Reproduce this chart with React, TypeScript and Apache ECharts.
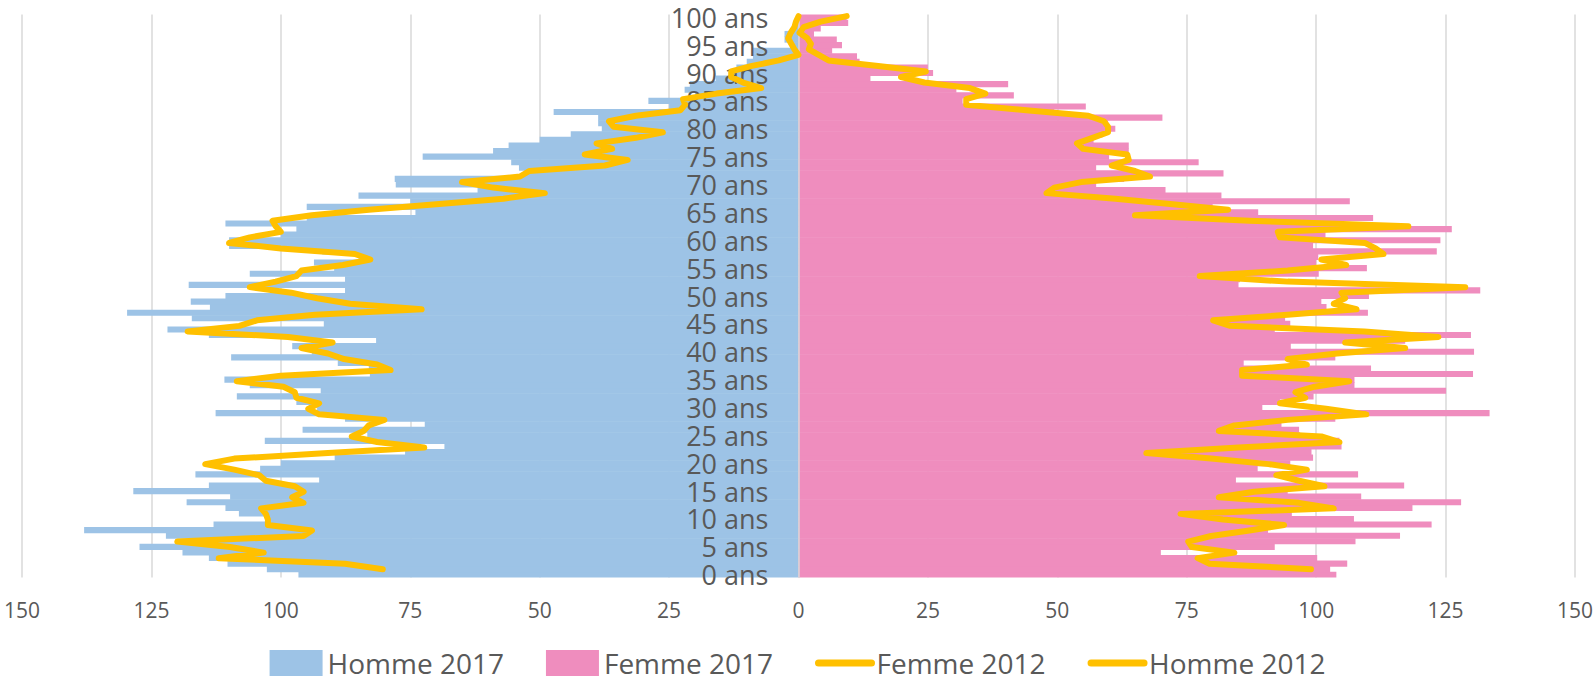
import React, { useEffect, useRef } from "react";
import * as echarts from "echarts";

// Ages 0..100 (category axis, bottom to top)
const ageLabels: string[] = Array.from({ length: 101 }, (_, i) => `${i} ans`);

const xTicks = [-150, -125, -100, -75, -50, -25, 0, 25, 50, 75, 100, 125, 150];

// Homme 2017 (negative = left side), index = age 0..100
const homme2017 = [
  -96.6, -102.7, -110.3, -113.9, -119, -127.3, -115, -122.2, -138, -113,
  -103, -108.1, -110.7, -118.2, -109.8, -128.5, -113.9, -92.6, -116.5, -104,
  -100, -89.6, -76, -68.4, -103.1, -83.3, -95.8, -72.2, -87.6, -112.6,
  -93, -97, -108.5, -92.3, -106, -110.9, -82.8, -83, -89, -109.6,
  -94, -97.8, -81.6, -113.9, -121.9, -91.7, -117.2, -129.7, -113.7, -117.4,
  -110.7, -87.6, -117.8, -87.6, -106, -89.7, -93.6, -85, -92, -110,
  -110, -100, -97, -110.7, -95, -74, -95, -75, -85, -62,
  -77.8, -78, -53, -54, -55.5, -72.6, -59, -56, -50, -44,
  -38, -38.7, -38.7, -47.3, -25, -29, -20, -22, -21, -16,
  -13, -12, -10, -8.8, -8.8, -1.5, -2.7, -2.7, -1, -0.5,
  -0.3,
];

// Femme 2017, index = age 0..100
const femme2017 = [
  103.9, 102.7, 106, 100.2, 70, 92, 107.6, 116.2, 90.7, 122.3,
  107.3, 95.3, 118.6, 128, 108.7, 94.5, 117, 84.5, 108.1, 88.7,
  95, 99.4, 99.1, 104.9, 104.5, 96.9, 96.7, 93.3, 103.7, 133.5,
  89.6, 93, 99.5, 125.1, 107.4, 107.4, 130.3, 110.6, 86, 103.7,
  130.5, 95.1, 117.2, 129.9, 92, 95, 94, 110, 102, 101,
  110.2, 131.7, 85, 85.3, 100.5, 109.8, 100, 100.4, 123.3, 99.4,
  124, 101.8, 126.2, 100, 111, 88.8, 80, 106.5, 81.7, 70.9,
  57.5, 62.9, 82.1, 57.5, 77.3, 60, 63.8, 63.8, 57, 58.7,
  61.2, 59.8, 70.3, 49.4, 55.5, 31.7, 41.6, 30.5, 40.5, 13.9,
  26, 25, 11.8, 11.3, 6.5, 8.4, 7.4, 3, 4.3, 9.6,
  9.3,
];

// Femme 2012 line points (0..100)
const femme2012 = [
  99, 79.4, 77.1, 84.2, 76, 75.3, 79.7, 87.1, 93.8, 82,
  73.8, 103.4, 96.7, 81.2, 88, 101.6, 96.7, 92.3, 98.2, 90.8,
  79.7, 67.2, 85, 104.5, 101, 81.2, 84.2, 94.5, 109.7, 101.9,
  93, 97.9, 96, 99.7, 106.4, 85.7, 85.7, 98.2, 94.5, 104,
  117.2, 105.6, 123.6, 109.3, 83.4, 80.1, 94.5, 107.8, 103.4, 105.6,
  104.9, 128.8, 94.5, 77.5, 94.5, 105.8, 101, 113, 111.5, 109.4,
  93, 92.6, 117.8, 87.1, 65, 83, 72.3, 61.2, 47.9, 49.4,
  54.6, 67.9, 65, 60.5, 63.8, 63.5, 55, 53.8, 56.8, 59.8,
  59.8, 59, 56, 44, 32.4, 32.4, 36.1, 33.1, 24.3, 19.8,
  24.6, 15.4, 5.8, 3.9, 2, 2.4, 1.7, 0.2, 1, 4.3,
  9.3,
];

// Homme 2012 line points (0..100)
const homme2012 = [
  -80.3, -87.6, -112, -103.3, -109.8, -120, -95.6, -94, -102.5, -102.5,
  -102.9, -103.8, -95.6, -97.8, -95.6, -97.3, -102.9, -104.2, -109, -114.6,
  -109, -90.9, -72.3, -81.4, -86.3, -84, -83, -80, -92.6, -94.7,
  -92.6, -97, -97.3, -99.5, -108.5, -100, -78.8, -81.4, -87.8, -90.9,
  -96, -90, -98.6, -118, -108, -104.6, -93.4, -72.8, -86.6, -93,
  -98, -106, -101, -97, -96, -88, -82.7, -85.7, -100, -110,
  -106, -100, -101, -101.6, -94, -83, -70, -57, -49, -59,
  -65, -53.8, -52, -37.4, -33, -41.3, -36, -39, -31.4, -26.2,
  -35.7, -36.6, -31.4, -22.8, -21.9, -22.3, -15.8, -7.2, -10.7, -13,
  -13, -9, -3.8, 0, -0.8, -1.4, -2, -1.5, -0.8, -0.5,
  0,
];

const FONT = "'Open Sans', 'Noto Sans', sans-serif";
const TEXT = "#595959";
const BLUE = "#9DC3E6";
const PINK = "#EF8DBE";
const ORANGE = "#FFC000";

const W = 1595;
const H = 679;
const GRID_LEFT = 22;
const GRID_RIGHT = 20;

export default function App() {
  const ref = useRef<HTMLDivElement>(null);

  useEffect(() => {
    document.body.style.margin = "0";
    if (!ref.current) return;
    const chart = echarts.init(ref.current, undefined, { renderer: "svg" });
    const toPts = (arr: number[]) => arr.map((v, i) => [v, i]);
    const plotW = W - GRID_LEFT - GRID_RIGHT;
    const zeroOffset = -plotW / 2; // move the category axis to x = 0
    const lineLegend = (name: string) => ({
      name,
      itemStyle: { opacity: 0 },
      lineStyle: { width: 7, color: ORANGE, cap: "round" },
    });
    chart.setOption({
      animation: false,
      backgroundColor: "#ffffff",
      textStyle: { fontFamily: FONT },
      grid: {
        left: GRID_LEFT,
        right: GRID_RIGHT,
        top: 14.5,
        bottom: 101.5,
        containLabel: false,
        outerBoundsMode: "none",
      },
      legend: {
        data: [
          { name: "Homme 2017", icon: "rect" },
          { name: "Femme 2017", icon: "rect" },
          lineLegend("Femme 2012"),
          lineLegend("Homme 2012"),
        ],
        top: 644,
        left: "center",
        itemWidth: 53,
        itemHeight: 26,
        itemGap: 42,
        textStyle: { fontSize: 28, lineHeight: 28, color: TEXT, fontFamily: FONT },
      },
      xAxis: {
        type: "value",
        min: xTicks[0],
        max: xTicks[xTicks.length - 1],
        interval: 25,
        axisLine: { show: false },
        axisTick: { show: false },
        axisLabel: {
          formatter: (v: number) => String(Math.abs(v)),
          fontSize: 21,
          color: TEXT,
          fontFamily: FONT,
          margin: 22,
        },
        splitLine: { lineStyle: { color: "#D9D9D9", width: 1.5 } },
      },
      yAxis: [
        {
          type: "category",
          data: ageLabels,
          position: "left",
          offset: zeroOffset,
          z: 10,
          axisLine: { show: true, onZero: false, lineStyle: { color: "#D9D9D9", width: 1.5 } },
          axisTick: { show: false },
          axisLabel: {
            interval: 4,
            fontSize: 27,
            lineHeight: 26,
            color: TEXT,
            fontFamily: FONT,
            margin: 30,
          },
          splitLine: { show: false },
        },
        {
          type: "value",
          min: -1.5,
          max: 100.3,
          show: false,
          splitLine: { show: false },
        },
      ],
      series: [
        {
          name: "Homme 2017",
          type: "bar",
          data: homme2017,
          barGap: "-100%",
          barWidth: "110%",
          itemStyle: { color: BLUE },
          z: 2,
        },
        {
          name: "Femme 2017",
          type: "bar",
          data: femme2017,
          barGap: "-100%",
          barWidth: "110%",
          itemStyle: { color: PINK },
          z: 2,
        },
        {
          name: "Femme 2012",
          type: "line",
          yAxisIndex: 1,
          data: toPts(femme2012),
          showSymbol: false,
          symbol: "none",
          z: 11,
          lineStyle: { color: ORANGE, width: 6, join: "round", cap: "round" },
          itemStyle: { color: ORANGE },
        },
        {
          name: "Homme 2012",
          type: "line",
          yAxisIndex: 1,
          data: toPts(homme2012),
          showSymbol: false,
          symbol: "none",
          z: 11,
          lineStyle: { color: ORANGE, width: 6, join: "round", cap: "round" },
          itemStyle: { color: ORANGE },
        },
      ],
    });
    return () => chart.dispose();
  }, []);

  return (
    <div
      ref={ref}
      style={{ position: "fixed", left: 0, top: 0, width: W, height: H, background: "#fff" }}
    />
  );
}
